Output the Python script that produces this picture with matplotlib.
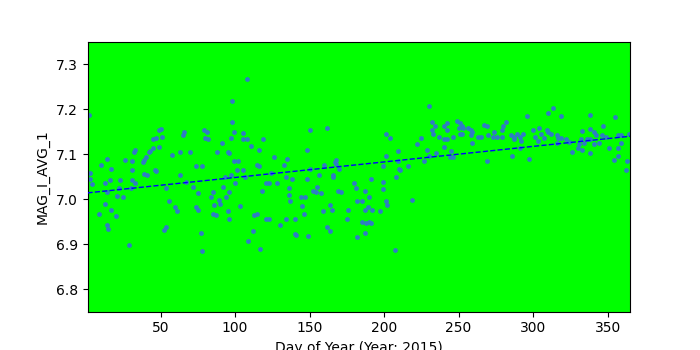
import numpy as np
import matplotlib
matplotlib.use('Agg')
import matplotlib.pyplot as plt

# Day of year / MAG_I_AVG_1 readings
days = [2, 3, 3, 4, 10, 14, 17, 13, 16, 14, 13, 9, 17, 20, 14, 15, 21, 22, 23, 25,
        26, 29, 31, 31, 31, 30, 33, 32, 33, 38, 39, 40, 39, 41, 42, 43, 46, 47, 45, 49,
        45, 47, 49, 50, 51, 54, 56, 58, 60, 61, 52, 54,
        108, 98, 98, 99, 97, 105, 105, 108, 111, 119, 116, 65, 66, 79, 81, 80, 82, 91,
        63, 70, 88, 95, 96, 99, 102, 74, 78, 101, 105, 115, 116, 63, 67, 93, 97, 107,
        100, 72, 92, 75, 85, 96, 84, 94, 89, 90, 86, 103, 118, 121, 74, 75, 95, 85,
        87, 96, 115, 113, 112, 77, 109, 78, 117, 121,
        150, 162, 148, 126, 135, 133, 124, 134, 138, 148, 150, 156, 160, 168, 167, 168,
        170, 166, 166, 123, 128, 136, 155, 152, 154, 136, 137, 144, 147, 158, 169, 171,
        180, 181, 182, 145, 164, 146, 159, 165, 176, 123, 134, 140, 175, 130, 162, 164,
        140, 141, 149, 182,
        230, 232, 234, 240, 242, 232, 233, 237, 240, 242, 242, 240, 201, 204, 225, 222,
        209, 229, 235, 201, 209, 227, 230, 216, 199, 210, 211, 208, 191, 199, 187, 199,
        190, 185, 219, 201, 202, 189, 187, 192, 197, 185, 188, 190, 191, 187, 207,
        296, 249, 251, 252, 253, 250, 267, 269, 282, 280, 279, 256, 258, 259, 251, 252,
        258, 246, 263, 265, 270, 274, 273, 276, 279, 285, 289, 287, 293, 291, 287, 292,
        300, 301, 259, 291, 245, 244, 246, 269, 286, 297,
        313, 310, 319, 338, 355, 304, 309, 310, 312, 305, 307, 316, 317, 319, 322, 324,
        303, 316, 326, 333, 338, 341, 342, 347, 346, 349, 332, 334, 338, 336, 331, 330,
        333, 338, 341, 344, 357, 359, 364, 359, 351, 357, 357, 354, 363, 362]

mag = [7.188, 7.059, 7.044, 7.034, 7.077, 7.090, 7.068, 7.035, 7.042, 7.015, 6.990, 6.966,
       6.975, 6.962, 6.942, 6.933, 7.008, 7.024, 7.042, 7.004, 7.088, 6.897, 7.086, 7.066,
       7.042, 7.024, 7.035, 7.106, 7.110, 7.082, 7.088, 7.095, 7.057, 7.054, 7.105, 7.108,
       7.064, 7.062, 7.113, 7.117, 7.135, 7.137, 7.153, 7.157, 7.139, 7.026, 6.997, 7.099,
       6.983, 6.973, 6.931, 6.938,
       7.268, 7.219, 7.173, 7.150, 7.137, 7.148, 7.133, 7.133, 7.119, 7.135, 7.110, 7.144,
       7.150, 7.155, 7.150, 7.137, 7.135, 7.126, 7.104, 7.106, 7.104, 7.104, 7.102, 7.086,
       7.084, 7.073, 7.073, 7.066, 7.064, 7.077, 7.075, 7.055, 7.039, 7.050, 7.055, 7.050,
       7.037, 7.028, 7.028, 7.013, 7.017, 7.017, 7.004, 7.006, 6.999, 6.990, 6.988, 6.984,
       7.019, 7.035, 6.982, 6.977, 6.973, 6.966, 6.964, 6.955, 6.968, 6.964, 6.930, 6.924,
       6.906, 6.884, 6.890, 6.955,
       7.155, 7.159, 7.110, 7.093, 7.090, 7.077, 7.059, 7.050, 7.044, 7.046, 7.068, 7.055,
       7.077, 7.088, 7.082, 7.079, 7.068, 7.055, 7.050, 7.037, 7.035, 7.026, 7.028, 7.019,
       7.017, 7.010, 6.997, 7.004, 7.006, 7.013, 7.019, 7.017, 7.035, 7.024, 6.997, 6.984,
       6.986, 6.968, 6.973, 6.975, 6.975, 6.955, 6.955, 6.955, 6.955, 6.942, 6.939, 6.930,
       6.922, 6.920, 6.917, 6.915,
       7.208, 7.173, 7.164, 7.164, 7.170, 7.153, 7.146, 7.139, 7.133, 7.135, 7.155, 7.117,
       7.146, 7.137, 7.137, 7.122, 7.108, 7.110, 7.102, 7.097, 7.086, 7.084, 7.097, 7.075,
       7.073, 7.068, 7.064, 7.050, 7.046, 7.039, 7.019, 7.022, 7.004, 6.997, 6.999, 6.997,
       6.988, 6.982, 6.977, 6.975, 6.973, 6.950, 6.946, 6.950, 6.946, 6.924, 6.886,
       7.186, 7.175, 7.170, 7.164, 7.159, 7.159, 7.166, 7.164, 7.173, 7.164, 7.155, 7.159,
       7.155, 7.150, 7.146, 7.146, 7.144, 7.139, 7.139, 7.139, 7.142, 7.150, 7.139, 7.139,
       7.139, 7.144, 7.146, 7.139, 7.146, 7.139, 7.133, 7.130, 7.155, 7.139, 7.126, 7.115,
       7.108, 7.095, 7.095, 7.086, 7.097, 7.090,
       7.202, 7.193, 7.186, 7.188, 7.184, 7.159, 7.155, 7.150, 7.146, 7.146, 7.137, 7.142,
       7.137, 7.137, 7.133, 7.128, 7.130, 7.126, 7.106, 7.152, 7.157, 7.150, 7.142, 7.162,
       7.142, 7.139, 7.133, 7.126, 7.133, 7.135, 7.122, 7.115, 7.110, 7.102, 7.122, 7.126,
       7.142, 7.144, 7.146, 7.126, 7.113, 7.113, 7.097, 7.088, 7.086, 7.066]

year = 2015
day_range = (1, 365)

x = np.array(days, dtype=float)
y = np.array(mag)

# linear trend
coef = np.polyfit(x, y, 1)
xfit = np.array(day_range, dtype=float)
yfit = np.polyval(coef, xfit)

fig, ax = plt.subplots(figsize=(7, 3.5), dpi=100)
ax.set_facecolor('#00ff00')
ax.scatter(x, y, s=12, color='#2e7dc4', marker='o', linewidths=0, zorder=2)
ax.plot(xfit, yfit, color='blue', linestyle='--', linewidth=1, zorder=3)

ax.set_xlim(*day_range)
ax.set_ylim(6.75, 7.35)
ax.set_xlabel(f'Day of Year (Year: {year})')
ax.set_ylabel('MAG_I_AVG_1')

fig.savefig('out.png')
